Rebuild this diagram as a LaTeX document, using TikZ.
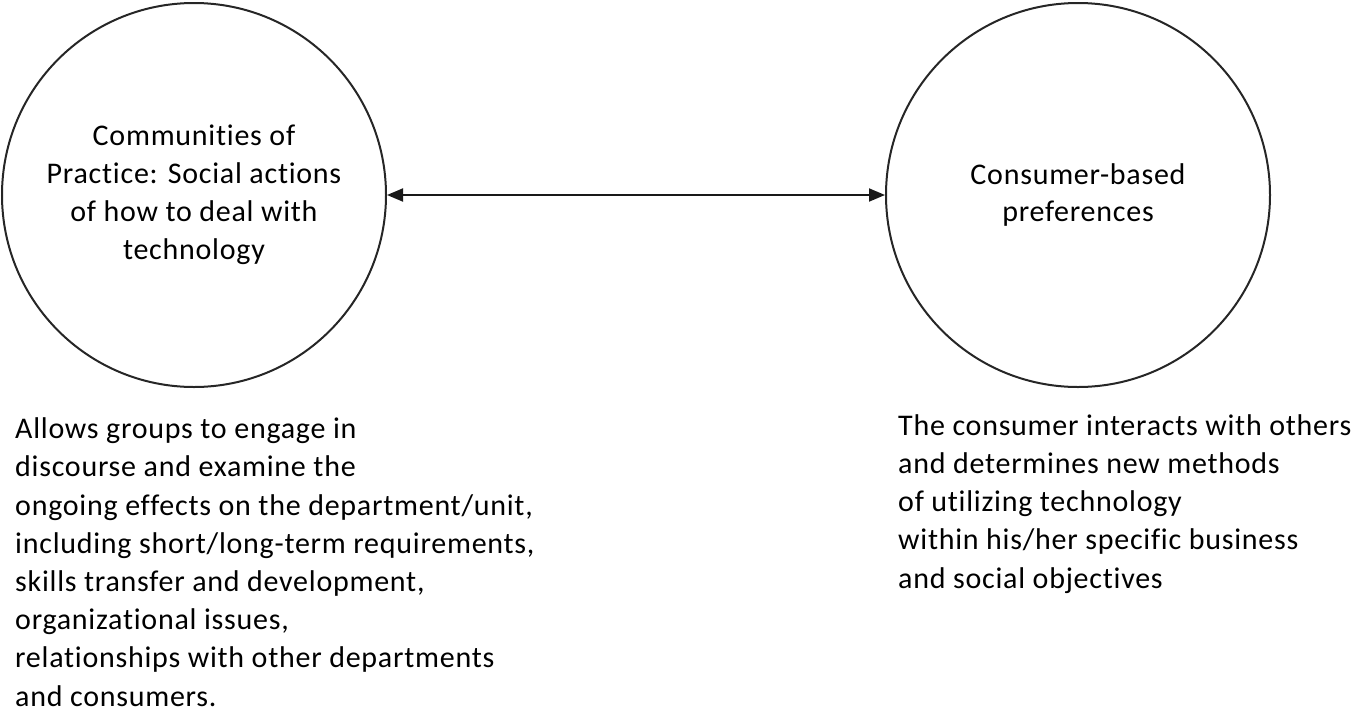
\documentclass[tikz,border=0pt]{standalone}
\usepackage{fontspec}
\setmainfont{Carlito}[LetterSpace=2.5,Ligatures={NoCommon,NoRare}]
\usetikzlibrary{arrows.meta}
\begin{document}
\begin{tikzpicture}[x=1pt,y=-1pt,
  bubble/.style={circle,draw=black!85,line width=2pt,minimum size=384pt,inner sep=0pt,align=center,
    font=\fontsize{30}{38}\selectfont},
  note/.style={anchor=base west,align=left,inner sep=0pt,font=\fontsize{30}{38.2}\selectfont},
  link/.style={line width=1.9pt,draw=black!90,{Triangle[length=16pt,width=13pt]}-{Triangle[length=16pt,width=13pt]}}]
\useasboundingbox (0,0) rectangle (1358,713);
\node[bubble] (L) at (194,195) {Communities of\\Practice: Social actions\\of how to deal with\\technology};
\node[bubble,font=\fontsize{30}{37}\selectfont] (R) at (1078,195) {Consumer-based\\preferences};
\draw[link] (L) -- (R);
% anchor=base is the baseline of the last line
\node[note] (lt) at (15,706) {Allows groups to engage in\\discourse and examine the\\ongoing effects on the department/unit,\\including short/long-term requirements,\\skills transfer and development,\\organizational issues,\\relationships with other departments\\and consumers.};
\node[note] (rt) at (898,588) {The consumer interacts with others\\and determines new methods\\of utilizing technology\\within his/her specific business\\and social objectives};
\end{tikzpicture}
\end{document}
